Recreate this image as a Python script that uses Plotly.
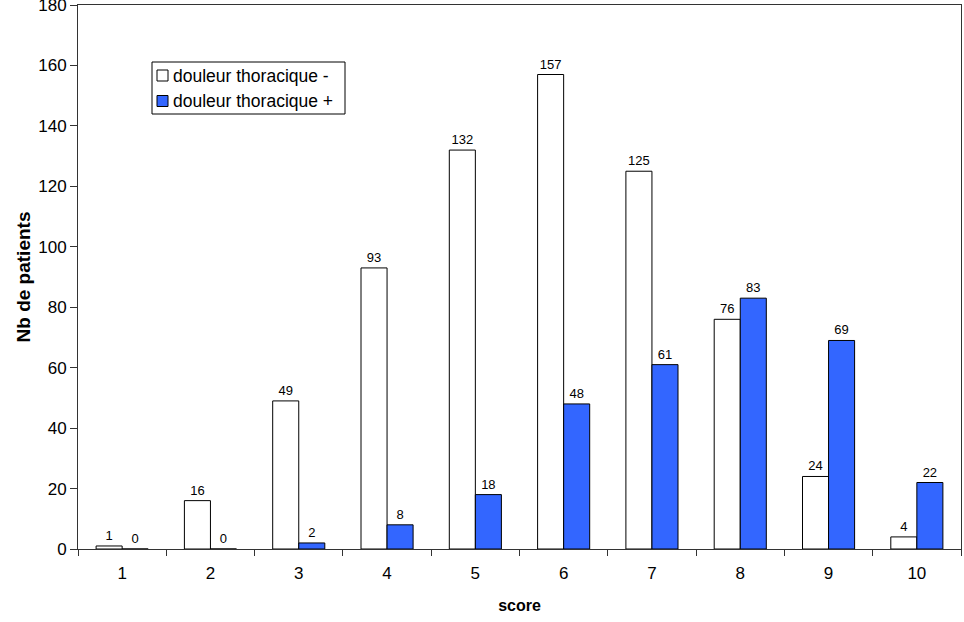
import plotly.graph_objects as go

scores = ["1", "2", "3", "4", "5", "6", "7", "8", "9", "10"]
douleur_moins = [1, 16, 49, 93, 132, 157, 125, 76, 24, 4]
douleur_plus = [0, 0, 2, 8, 18, 48, 61, 83, 69, 22]
y_ticks = [0, 20, 40, 60, 80, 100, 120, 140, 160, 180]
series_names = ["douleur thoracique -", "douleur thoracique +"]
series_colors = ["white", "#3366FF"]

font_family = "Liberation Sans, Arial, sans-serif"
W, H = 964, 622
M_L, M_R, M_T, M_B = 78, 3, 5, 73
plot_w = W - M_L - M_R
plot_h = H - M_T - M_B


def px_to_paper(px, py):
    return (px - M_L) / plot_w, (H - M_B - py) / plot_h


fig = go.Figure()
for name, color, values in zip(series_names, series_colors, [douleur_moins, douleur_plus]):
    fig.add_trace(go.Bar(
        x=scores, y=values, name=name,
        marker=dict(color=color, line=dict(color="black", width=1)),
        text=[str(v) for v in values], textposition="outside",
        textfont=dict(size=13, color="black", family=font_family),
        cliponaxis=False, showlegend=False,
    ))

# legend box drawn in paper coordinates
shapes = []
annotations = []
x0, y0 = px_to_paper(152, 62)
x1, y1 = px_to_paper(345, 114)
shapes.append(dict(type="rect", xref="paper", yref="paper", x0=x0, y0=y1, x1=x1, y1=y0,
                   line=dict(color="black", width=1), fillcolor="white", layer="above"))
for i, (name, color) in enumerate(zip(series_names, series_colors)):
    cy = 75.5 + i * 25.5
    sx0, sy0 = px_to_paper(157, cy - 5.5)
    sx1, sy1 = px_to_paper(168, cy + 5.5)
    shapes.append(dict(type="rect", xref="paper", yref="paper", x0=sx0, y0=sy1, x1=sx1, y1=sy0,
                       line=dict(color="black", width=1), fillcolor=color, layer="above"))
    tx, ty = px_to_paper(171, cy)
    annotations.append(dict(text=name, xref="paper", yref="paper", x=tx, y=ty,
                            xanchor="left", yanchor="middle", showarrow=False,
                            font=dict(size=17.5, family=font_family, color="black")))

fig.update_layout(
    width=W, height=H,
    margin=dict(l=M_L, r=M_R, t=M_T, b=M_B, autoexpand=False),
    paper_bgcolor="white", plot_bgcolor="white",
    barmode="group", bargap=0.41, bargroupgap=0,
    font=dict(family=font_family, color="black"),
    shapes=shapes, annotations=annotations,
    xaxis=dict(
        type="category", showline=True, linecolor="#333", linewidth=1,
        ticks="outside", tickson="boundaries", ticklen=6, tickcolor="#333",
        tickfont=dict(size=17), mirror=True, ticklabelstandoff=9,
        title=dict(text="<b>score</b>", font=dict(size=16), standoff=17),
        showgrid=False, automargin=False,
    ),
    yaxis=dict(
        range=[0, 180], tickvals=y_ticks, showline=True, linecolor="#333",
        linewidth=1, ticks="outside", ticklen=7, tickcolor="#333",
        tickfont=dict(size=17), mirror=True, showgrid=False, zeroline=False,
        ticklabeloverflow="allow", automargin=False,
        title=dict(text="<b>Nb de patients</b>", font=dict(size=19), standoff=2),
    ),
)

fig.write_html("out.html")
